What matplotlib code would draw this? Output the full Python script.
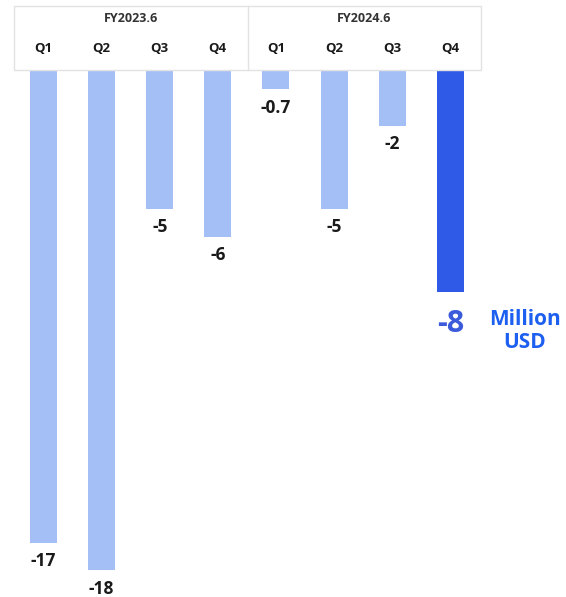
import matplotlib
matplotlib.use("Agg")
import matplotlib.pyplot as plt
from matplotlib.patches import Rectangle

# Quarterly results (million USD)
years = ["FY2023.6", "FY2024.6"]
quarters = ["Q1", "Q2", "Q3", "Q4", "Q1", "Q2", "Q3", "Q4"]
values = [-17, -18, -5, -6, -0.7, -5, -2, -8]
value_labels = ["-17", "-18", "-5", "-6", "-0.7", "-5", "-2", "-8"]
unit_label = "Million\nUSD"

LIGHT = "#a4bff5"
DARK = "#2f5ae8"
UNIT_BLUE = "#1d5ff0"
TEXT = "#1a1a1a"

W, H = 566, 597
fig = plt.figure(figsize=(W / 100, H / 100), dpi=100)
ax = fig.add_axes([0, 0, 1, 1])

# pixel layout: bar centres every 58.1 px starting at 43.5, zero line 70 px from top
step, x0 = 58.1, 43.5
zero_px, px_per_unit = 70.0, 27.8
ax.set_xlim(-x0 / step, (W - x0) / step)
ax.set_ylim(-(H - zero_px) / px_per_unit, zero_px / px_per_unit)
ax.axis("off")

xs = list(range(len(values)))
colors = [LIGHT] * (len(values) - 1) + [DARK]
ax.bar(xs, values, width=27 / step, color=colors, zorder=2)

font = "Open Sans"
for i, (v, lab) in enumerate(zip(values, value_labels)):
    last = i == len(values) - 1
    ax.annotate(lab, (i, v), xytext=(0, -(32 if last else 18.5) * 0.72),
                textcoords="offset points", ha="center", va="center",
                fontsize=22 if last else 12.5, fontweight="bold",
                color="#3b5bdb" if last else TEXT, family=font,
                annotation_clip=False)

ax.annotate(unit_label, (len(values) - 1, values[-1]),
            xytext=((525 - 450.5) * 0.72, -17 * 0.72),
            textcoords="offset points", ha="center", va="top",
            fontsize=15, fontweight="bold", color=UNIT_BLUE, family=font,
            linespacing=1.12, annotation_clip=False)

# header box with fiscal-year and quarter labels
def fx(px):
    return px / W

def fy(py):
    return 1 - py / H

box = Rectangle((fx(14), fy(70)), fx(481) - fx(14), fy(6) - fy(70),
                transform=fig.transFigure, facecolor="white",
                edgecolor="#e2e2e2", linewidth=1.0, zorder=5)
fig.patches.append(box)
fig.add_artist(plt.Line2D([fx(247.5), fx(247.5)], [fy(70), fy(6)],
                          transform=fig.transFigure, color="#e2e2e2",
                          linewidth=1.0, zorder=6))

for j, yr in enumerate(years):
    cx = (14 + 247.5) / 2 if j == 0 else (247.5 + 481) / 2
    fig.text(fx(cx), fy(18), yr, ha="center", va="center", fontsize=9,
             fontweight="bold", color="#333333", family=font, zorder=7)

for i, q in enumerate(quarters):
    fig.text(fx(x0 + step * i), fy(49), q, ha="center", va="center",
             fontsize=9.5, fontweight="bold", color=TEXT, family=font,
             zorder=7)

fig.savefig("out.png", dpi=100, facecolor="white")
